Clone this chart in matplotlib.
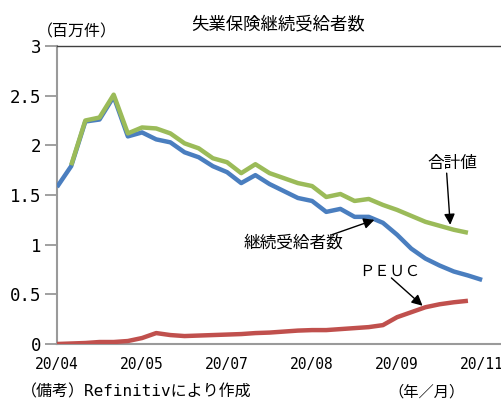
import numpy as np
import matplotlib
matplotlib.use("Agg")
import matplotlib.pyplot as plt

plt.rcParams['font.family'] = ['Noto Sans CJK JP', 'DejaVu Sans']

# weekly observations, millions of claims
week_idx = np.arange(31)
tick_pos = [0, 6, 12, 18, 24, 30]
tick_labels = ["20/04", "20/05", "20/07", "20/08", "20/09", "20/11"]

continuing = [1.58, 1.79, 2.24, 2.26, 2.49, 2.09, 2.13, 2.06, 2.03, 1.93,
              1.88, 1.79, 1.73, 1.62, 1.70, 1.61, 1.54, 1.47, 1.44, 1.33,
              1.36, 1.28, 1.28, 1.22, 1.10, 0.96, 0.86, 0.79, 0.73, 0.69,
              0.645]
total = [np.nan, 1.80, 2.25, 2.28, 2.51, 2.12, 2.18, 2.17, 2.12, 2.02,
         1.97, 1.87, 1.83, 1.72, 1.81, 1.72, 1.67, 1.62, 1.59, 1.48,
         1.51, 1.44, 1.46, 1.40, 1.35, 1.29, 1.23, 1.19, 1.15, 1.12,
         np.nan]
peuc = [0.0, 0.005, 0.01, 0.02, 0.02, 0.03, 0.06, 0.11, 0.09, 0.08,
        0.085, 0.09, 0.095, 0.10, 0.11, 0.115, 0.125, 0.135, 0.14, 0.14,
        0.15, 0.16, 0.17, 0.19, 0.27, 0.32, 0.37, 0.40, 0.42, 0.435,
        np.nan]

W, H = 501, 400
fig = plt.figure(figsize=(W / 100, H / 100), dpi=100)
ax = fig.add_axes([57 / W, 1 - 344 / H, (500 - 57) / W, (344 - 46) / H])

ax.plot(week_idx, continuing, color="#4a7ebf", lw=3.2, solid_capstyle="butt", zorder=3)
ax.plot(week_idx, total, color="#9bbb59", lw=3.2, solid_capstyle="butt", zorder=4)
ax.plot(week_idx, peuc, color="#c0504d", lw=3.2, solid_capstyle="butt", zorder=3)

ax.set_xlim(0, (500 - 57) / 14.17)
ax.set_ylim(0, 3)

ax.set_yticks(np.arange(0, 3.01, 0.5))
ax.set_yticklabels(["0", "0.5", "1", "1.5", "2", "2.5", "3"],
                   family="DejaVu Sans Mono", fontsize=12.5)
ax.set_xticks(tick_pos)
ax.set_xticklabels(tick_labels, family="DejaVu Sans Mono", fontsize=10.5)
ax.tick_params(axis="y", length=9, width=1.2, color="#909090", pad=2)
ax.tick_params(axis="x", length=0, pad=9)

for side in ("left", "bottom"):
    ax.spines[side].set_color("#9a9a9a")
    ax.spines[side].set_linewidth(1.5)
ax.spines["top"].set_color("#404040")
ax.spines["top"].set_linewidth(1.0)
ax.spines["right"].set_visible(False)

arrow = dict(arrowstyle="-|>", color="black", lw=1.0, mutation_scale=16,
             shrinkA=0, shrinkB=0)
ax.annotate("", xy=(27.75, 1.20), xytext=(27.5, 1.72), arrowprops=arrow)
ax.text(27.9, 1.82, "合計値", fontsize=12, ha="center", va="center")
ax.annotate("", xy=(22.4, 1.25), xytext=(19.4, 1.10), arrowprops=arrow)
ax.text(16.7, 1.02, "継続受給者数", fontsize=12, ha="center", va="center")
ax.annotate("", xy=(25.8, 0.385), xytext=(23.6, 0.665), arrowprops=arrow)
ax.text(23.5, 0.735, "ＰＥＵＣ", fontsize=11, ha="center", va="center")

mixed = ["DejaVu Sans Mono", "Noto Sans CJK JP"]
fig.text(278 / W, 1 - 25 / H, "失業保険継続受給者数", fontsize=12.5, ha="center", va="center")
fig.text(37 / W, 1 - 32 / H, "（百万件）", fontsize=11.5, ha="left", va="center")
fig.text(21 / W, 1 - 392 / H, "（備考）Refinitivにより作成", fontsize=11.5,
         family=mixed, ha="left", va="center")
fig.text(388 / W, 1 - 392 / H, "（年／月）", fontsize=11, ha="left", va="center")

fig.savefig("out.png", dpi=100)
